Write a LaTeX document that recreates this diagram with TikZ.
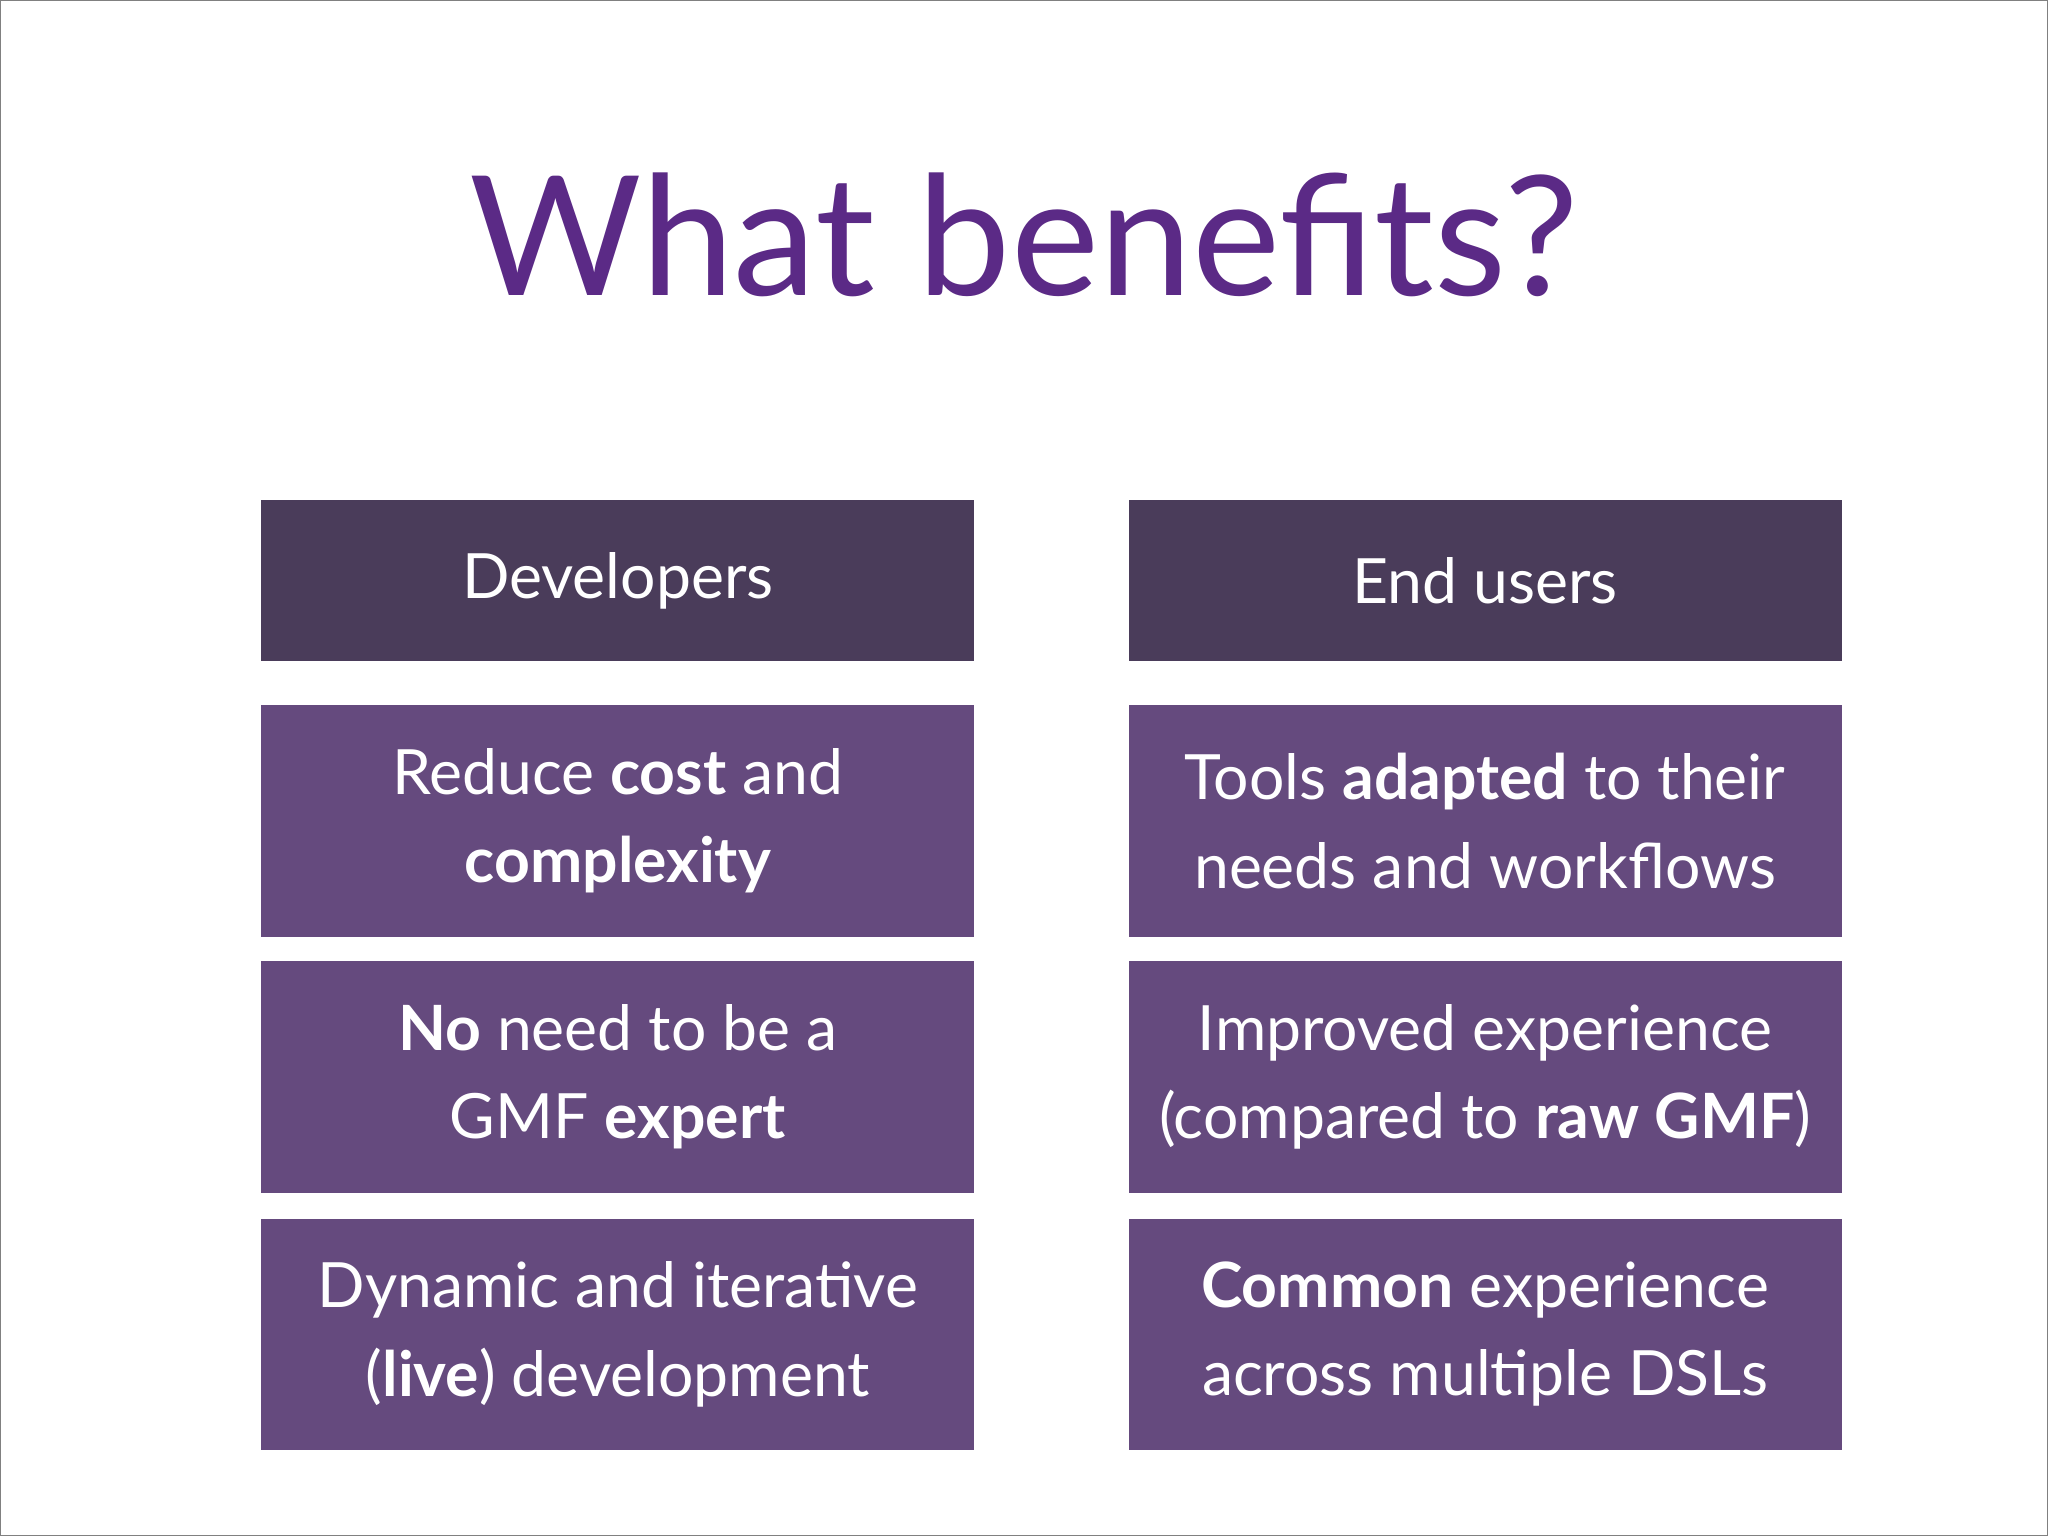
\documentclass[tikz,border=0pt]{standalone}
\usepackage{fontspec}
\setmainfont{Lato}
\definecolor{titlec}{HTML}{5B2A86}
\definecolor{headc}{HTML}{4A3C5A}
\definecolor{bodyc}{HTML}{654A7E}
\begin{document}
\begin{tikzpicture}[x=1bp,y=-1bp,
  box/.style={fill=bodyc,minimum width=546bp,minimum height=177bp,text=white,align=center,font=\fontsize{48}{68}\selectfont,inner sep=0pt,drop shadow/.style={}},
  head/.style={box,fill=headc,minimum height=123bp}]
\fill[white] (0,0) rectangle (1568,1176);
\draw[gray,line width=1bp] (0.5,0.5) rectangle (1567.5,1175.5);
\useasboundingbox (0,0) rectangle (1568,1176);
\node[text=titlec,font=\fontsize{128}{140}\selectfont] (title) at (784,180) {What benefits?};
\node[head] (dev) at (473,444.5) {Developers};
\node[head] (end) at (1137,444.5) {End users};
\node[box] (d1) at (473,628.5) {Reduce \textbf{cost} and\\\textbf{complexity}};
\node[box] (d2) at (473,824.5) {\textbf{No} need to be a\\GMF \textbf{expert}};
\node[box] (d3) at (473,1021.5) {Dynamic and iterative\\(\textbf{live}) development};
\node[box] (e1) at (1137,628.5) {Tools \textbf{adapted} to their\\needs and workflows};
\node[box] (e2) at (1137,824.5) {Improved experience\\(compared to \textbf{raw GMF})};
\node[box] (e3) at (1137,1021.5) {\textbf{Common} experience\\across multiple DSLs};
\end{tikzpicture}
\end{document}
